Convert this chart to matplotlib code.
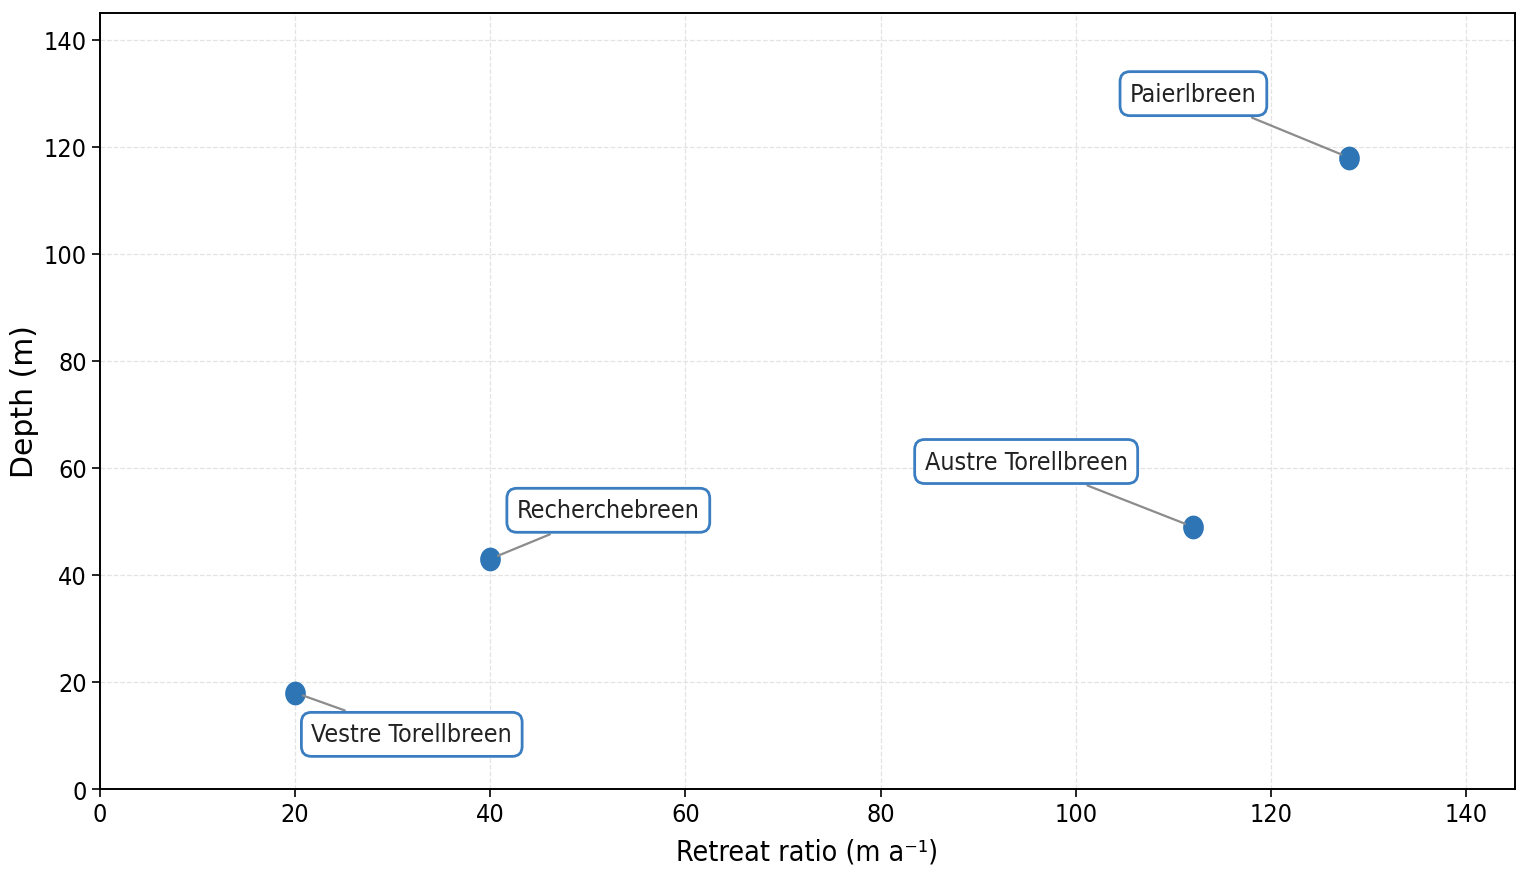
from matplotlib import pyplot as plt
from matplotlib import font_manager
from matplotlib.path import Path
from matplotlib.transforms import Affine2D

# glacier data
glaciers = ['Vestre Torellbreen', 'Recherchebreen', 'Austre Torellbreen', 'Paierlbreen']
retreat = [20, 40, 112, 128]
depth = [18, 43, 49, 118]

# label offsets (points) for each annotation
offsets = [(84, -30), (85, 35), (-120, 47), (-112, 46)]

# use condensed DejaVu if it is there
stretch = 'normal'
for f in font_manager.fontManager.ttflist:
    if f.name == 'DejaVu Sans' and 'Condensed' in f.fname:
        stretch = 'condensed'
plt.rcParams['font.family'] = ['DejaVu Sans']
plt.rcParams['font.stretch'] = stretch

ellipse = Path.unit_circle().transformed(Affine2D().scale(0.86, 1.0))

fig = plt.figure(figsize=(15.28, 8.78), dpi=100)
ax = fig.add_axes([0.0654, 0.1002, 0.926, 0.8838])

ax.scatter(retreat, depth, s=260, marker=ellipse, color='#2e75b6', zorder=3)

for name, x, y, off in zip(glaciers, retreat, depth, offsets):
    ax.annotate(name, xy=(x, y), xytext=off, textcoords='offset points',
                ha='center', va='center', fontsize=18, color='#222222',
                bbox=dict(boxstyle='round,pad=0.4', fc='white', ec='#3a7dc0', lw=2),
                arrowprops=dict(arrowstyle='-', color='#8c8c8c', lw=1.6,
                                shrinkB=6),
                zorder=4)

ax.set_xlim(0, 145)
ax.set_ylim(0, 145)
ax.set_xticks(range(0, 141, 20))
ax.set_yticks(range(0, 141, 20))
ax.tick_params(labelsize=18, length=6, width=1.2)
ax.grid(True, linestyle='--', color='#e3e3e3', lw=0.9)
ax.set_axisbelow(True)
for s in ax.spines.values():
    s.set_linewidth(1.4)

ax.set_xlabel('Retreat ratio (m a\u207b\u00b9)', fontsize=20.5, labelpad=8)
ax.set_ylabel('Depth (m)', fontsize=21.5, fontstretch='normal', labelpad=3)

plt.savefig('out.png', dpi=100)
